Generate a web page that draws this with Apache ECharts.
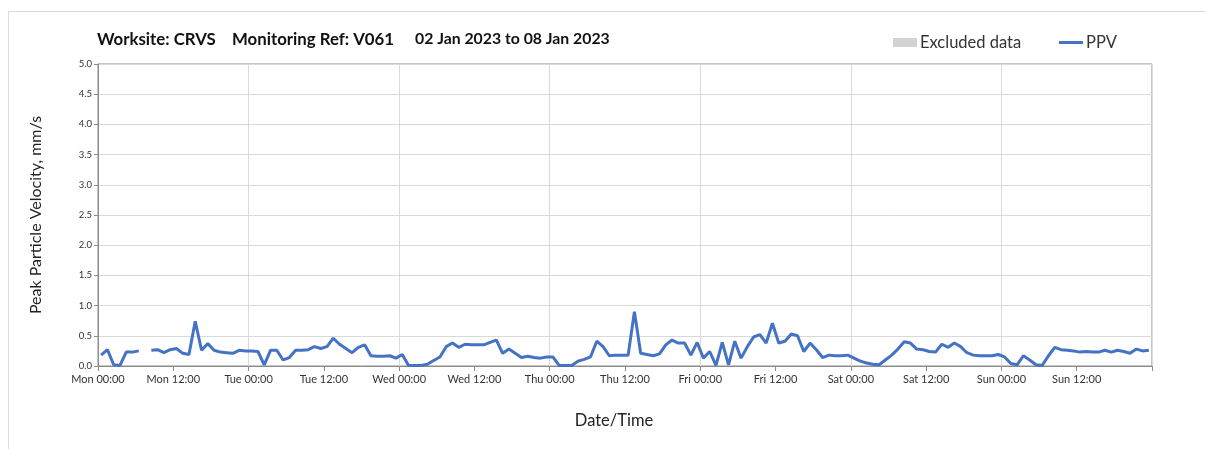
<!DOCTYPE html>
<html>
<head>
<meta charset="utf-8">
<script src="https://cdn.jsdelivr.net/npm/echarts@6/dist/echarts.min.js"></script>
<style>
html,body{margin:0;padding:0;background:#fff;}
#frame{position:absolute;left:8px;top:11px;width:1220px;height:460px;border:1px solid #dcdcdc;box-sizing:border-box;}
#chart{position:absolute;left:0;top:0;width:1205px;height:449px;}
</style>
</head>
<body>
<div id="frame"></div>
<div id="chart"></div>
<script>
// Tick labels every 12 hours starting Mon 02 Jan 2023 00:00
const tickLabels = ['Mon 00:00','Mon 12:00','Tue 00:00','Tue 12:00','Wed 00:00','Wed 12:00',
  'Thu 00:00','Thu 12:00','Fri 00:00','Fri 12:00','Sat 00:00','Sat 12:00','Sun 00:00','Sun 12:00',''];

// Title parts
const titleParts = ['Worksite: CRVS', 'Monitoring Ref: V061', '02 Jan 2023 to 08 Jan 2023'];

// Hourly PPV readings (mm/s), one value per hour, per day
const ppvMon = [0.18,0.27,0.02,0.01,0.23,0.23,0.25,null,0.26,0.27,0.22,0.27,0.29,0.21,0.19,0.74,0.26,0.37,0.26,0.23,0.22,0.21,0.26,0.25];
const ppvTue = [0.25,0.24,0.02,0.26,0.26,0.10,0.14,0.26,0.26,0.27,0.32,0.29,0.32,0.46,0.36,0.29,0.22,0.31,0.35,0.17,0.16,0.16,0.17,0.13];
const ppvWed = [0.19,0.01,0.01,0.01,0.03,0.09,0.15,0.32,0.38,0.31,0.36,0.35,0.35,0.35,0.39,0.43,0.21,0.28,0.21,0.14,0.16,0.14,0.13,0.15];
const ppvThu = [0.15,0.01,0.01,0.01,0.08,0.11,0.15,0.41,0.32,0.17,0.18,0.18,0.18,0.90,0.21,0.19,0.17,0.20,0.35,0.43,0.38,0.38,0.18,0.39];
const ppvFri = [0.13,0.24,0.01,0.39,0.02,0.41,0.13,0.32,0.48,0.52,0.38,0.71,0.38,0.41,0.53,0.50,0.24,0.38,0.27,0.14,0.18,0.17,0.17,0.18];
const ppvSat = [0.13,0.08,0.05,0.03,0.02,0.10,0.18,0.28,0.40,0.38,0.28,0.27,0.24,0.23,0.36,0.31,0.38,0.32,0.22,0.18,0.17,0.17,0.17,0.19];
const ppvSun = [0.15,0.04,0.02,0.17,0.10,0.02,0.01,0.17,0.31,0.27,0.26,0.25,0.23,0.24,0.23,0.23,0.26,0.23,0.26,0.24,0.21,0.28,0.25,0.26];

const allPPV = [].concat(ppvMon, ppvTue, ppvWed, ppvThu, ppvFri, ppvSat, ppvSun);
// each reading sits at the middle of its hour
const ppvData = allPPV.map((v, i) => [i + 0.5, v]);

const chart = echarts.init(document.getElementById('chart'));
const FONT = 'Lato, "Open Sans", sans-serif';
const titleStyle = size => ({ fontFamily: FONT, fontWeight: 'bold', fontSize: size, color: '#111' });
chart.setOption({
  animation: false,
  textStyle: { fontFamily: FONT },
  title: [
    { text: titleParts[0], left: 97, top: 31, padding: 0, textStyle: titleStyle(16.8) },
    { text: titleParts[1], left: 232, top: 31, padding: 0, textStyle: titleStyle(16.8) },
    { text: titleParts[2], left: 415, top: 31, padding: 0, textStyle: titleStyle(15.8) }
  ],
  legend: [
    { data: [{ name: 'Excluded data', icon: 'rect' }], left: 893, top: 34, padding: 0,
      itemWidth: 24, itemHeight: 9, itemGap: 4,
      textStyle: { fontFamily: FONT, fontSize: 16.5, color: '#333', padding: [0, 0, 0, -2] } },
    { data: [{ name: 'PPV', icon: 'rect' }], left: 1059, top: 34, padding: 0,
      itemWidth: 24, itemHeight: 3,
      textStyle: { fontFamily: FONT, fontSize: 16.5, color: '#333', padding: [0, 0, 0, -2] } }
  ],
  grid: { left: 98, right: 53, top: 64, bottom: 83, show: true, borderColor: '#8c8c8c', borderWidth: 1 },
  xAxis: [
    { type: 'value', min: 0, max: 168, interval: 12,
      axisLine: { show: true, lineStyle: { color: '#8c8c8c' } },
      axisTick: { show: true, length: 5, lineStyle: { color: '#8c8c8c' } },
      axisLabel: { fontFamily: FONT, fontSize: 11, color: '#333', margin: 8,
        formatter: v => tickLabels[Math.round(v / 12)] || '' },
      splitLine: { show: false },
      name: 'Date/Time', nameLocation: 'middle', nameGap: 46,
      nameTextStyle: { fontFamily: FONT, fontSize: 16.5, color: '#222', padding: [0, 22, 0, 0] } },
    { type: 'value', min: 0, max: 168, interval: 24, position: 'bottom',
      axisLine: { show: false }, axisTick: { show: false }, axisLabel: { show: false },
      splitLine: { show: true, lineStyle: { color: '#d9d9d9', width: 1 } } }
  ],
  yAxis: {
    type: 'value', min: 0, max: 5, interval: 0.5,
    axisLine: { show: true, lineStyle: { color: '#8c8c8c' } },
    axisTick: { show: true, length: 4, lineStyle: { color: '#8c8c8c' } },
    axisLabel: { fontFamily: FONT, fontSize: 9.5, color: '#333', margin: 6, formatter: v => v.toFixed(1) },
    splitLine: { show: true, lineStyle: { color: '#d9d9d9' } },
    name: 'Peak Particle Velocity, mm/s', nameLocation: 'middle', nameGap: 54,
    nameTextStyle: { fontFamily: FONT, fontSize: 16, color: '#222' }
  },
  series: [
    { name: 'Excluded data', type: 'bar', data: [], itemStyle: { color: '#d3d3d3' } },
    { name: 'PPV', type: 'line', data: ppvData, showSymbol: false, connectNulls: false,
      lineStyle: { color: '#4472c4', width: 3 }, itemStyle: { color: '#4472c4' } }
  ]
});
</script>
</body>
</html>
